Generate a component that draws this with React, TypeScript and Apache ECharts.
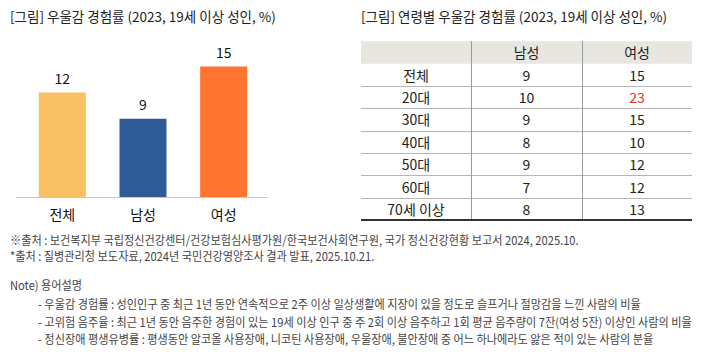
import React, { useEffect, useRef } from "react";
import * as echarts from "echarts";

const barCategories = ["전체", "남성", "여성"];
const barValues = [12, 9, 15];
const barColors = ["#F9C164", "#2E5B97", "#FF7430"];

const tableHeader = ["", "남성", "여성"];
const tableRows = ["전체", "20대", "30대", "40대", "50대", "60대", "70세 이상"];
const maleValues = [9, 10, 9, 8, 9, 7, 8];
const femaleValues = [15, 23, 15, 10, 12, 12, 13];
const highlight = [false, true, false, false, false, false, false];

const leftTitle = "[그림] 우울감 경험률 (2023, 19세 이상 성인, %)";
const rightTitle = "[그림] 연령별 우울감 경험률 (2023, 19세 이상 성인, %)";
const footnotes = [
  "※출처 : 보건복지부 국립정신건강센터/건강보험심사평가원/한국보건사회연구원, 국가 정신건강현황 보고서 2024, 2025.10.",
  "*출처 : 질병관리청 보도자료, 2024년 국민건강영양조사 결과 발표, 2025.10.21.",
];
const noteTitle = "Note) 용어설명";
const notes = [
  "- 우울감 경험률 : 성인인구 중 최근 1년 동안 연속적으로 2주 이상 일상생활에 지장이 있을 정도로 슬프거나 절망감을 느낀 사람의 비율",
  "- 고위험 음주율 : 최근 1년 동안 음주한 경험이 있는 19세 이상 인구 중 주 2회 이상 음주하고 1회 평균 음주량이 7잔(여성 5잔) 이상인 사람의 비율",
  "- 정신장애 평생유병률 : 평생동안 알코올 사용장애, 니코틴 사용장애, 우울장애, 불안장애 중 어느 하나에라도 앓은 적이 있는 사람의 분율",
];

const FONT = "'Noto Sans CJK KR', 'Noto Sans', sans-serif";

export default function App() {
  const ref = useRef<HTMLDivElement>(null);
  useEffect(() => {
    if (!ref.current) return;
    const chart = echarts.init(ref.current, null, { renderer: "svg" });

    const tx = [361, 471, 582, 692];
    const top = 41.3;
    const rh = 22.34;
    const colCenter = [(tx[0] + tx[1]) / 2, (tx[1] + tx[2]) / 2, (tx[2] + tx[3]) / 2];
    const g: any[] = [];

    g.push({ type: "text", left: 10, top: 9, style: { text: leftTitle, font: `13.5px ${FONT}`, fill: "#222" } });
    g.push({ type: "text", left: 361, top: 9, style: { text: rightTitle, font: `13.5px ${FONT}`, fill: "#222" } });

    // baseline
    g.push({ type: "line", shape: { x1: 16, y1: 197.5, x2: 268, y2: 197.5 }, style: { stroke: "#c8c8c8", lineWidth: 1 } });

    // table header bg
    g.push({ type: "rect", shape: { x: tx[0], y: top, width: tx[3] - tx[0], height: rh }, style: { fill: "#E8E6E1" } });
    // row lines
    for (let i = 1; i < tableRows.length; i++) {
      const y = Math.round(top + rh * (i + 1)) + 0.5;
      g.push({ type: "line", shape: { x1: tx[0], y1: y, x2: tx[3], y2: y }, style: { stroke: "#b5b5b5", lineWidth: 1 } });
    }
    const bottomY = top + rh * (tableRows.length + 1);
    // vertical lines
    [tx[1], tx[2]].forEach((x) => {
      g.push({ type: "line", shape: { x1: x + 0.5, y1: top, x2: x + 0.5, y2: bottomY }, style: { stroke: "#9a9a9a", lineWidth: 1 } });
    });
    g.push({ type: "line", shape: { x1: tx[0], y1: bottomY, x2: tx[3], y2: bottomY }, style: { stroke: "#333", lineWidth: 2 } });

    tableHeader.forEach((h, j) => {
      if (!h) return;
      g.push({ type: "text", x: colCenter[j], y: top + rh / 2, style: { text: h, font: `14px ${FONT}`, fill: "#222", align: "center", verticalAlign: "middle" } });
    });
    tableRows.forEach((r, i) => {
      const y = top + rh * (i + 1) + rh / 2;
      g.push({ type: "text", x: colCenter[0], y, style: { text: r, font: `14px ${FONT}`, fill: "#222", align: "center", verticalAlign: "middle" } });
      g.push({ type: "text", x: colCenter[1], y, style: { text: String(maleValues[i]), font: `14px ${FONT}`, fill: "#222", align: "center", verticalAlign: "middle" } });
      g.push({ type: "text", x: colCenter[2], y, style: { text: String(femaleValues[i]), font: `14px ${FONT}`, fill: highlight[i] ? "#E0341A" : "#222", align: "center", verticalAlign: "middle" } });
    });

    const sx = 0.93;
    const noteStyle = (t: string) => ({ text: t, font: `12px ${FONT}`, fill: "#444", verticalAlign: "middle" });
    g.push({ type: "text", x: 10, y: 240, scaleX: sx, style: noteStyle(footnotes[0]) });
    g.push({ type: "text", x: 10, y: 256, scaleX: sx, style: noteStyle(footnotes[1]) });
    g.push({ type: "text", x: 10, y: 285, scaleX: sx, style: noteStyle(noteTitle) });
    notes.forEach((n, i) => {
      g.push({ type: "text", x: 38, y: 304 + i * 17.5, scaleX: sx, style: noteStyle(n) });
    });

    chart.setOption({
      animation: false,
      grid: { left: 22, width: 242, top: 23, height: 174, containLabel: false },
      xAxis: {
        type: "category",
        data: barCategories,
        axisLine: { show: false },
        axisTick: { show: false },
        axisLabel: { color: "#111", fontSize: 14, fontFamily: FONT, margin: 10 },
      },
      yAxis: { type: "value", min: 0, max: 20, show: false, splitLine: { show: false } },
      series: [
        {
          type: "bar",
          barWidth: 47,
          data: barValues.map((v, i) => ({ value: v, itemStyle: { color: barColors[i] } })),
          label: { show: true, position: "top", distance: 8, color: "#111", fontSize: 14, fontFamily: FONT },
        },
      ],
      graphic: g,
    });
    return () => chart.dispose();
  }, []);
  return <div ref={ref} style={{ width: 714, height: 360, position: "absolute", left: 0, top: 0, background: "#fff" }} />;
}
